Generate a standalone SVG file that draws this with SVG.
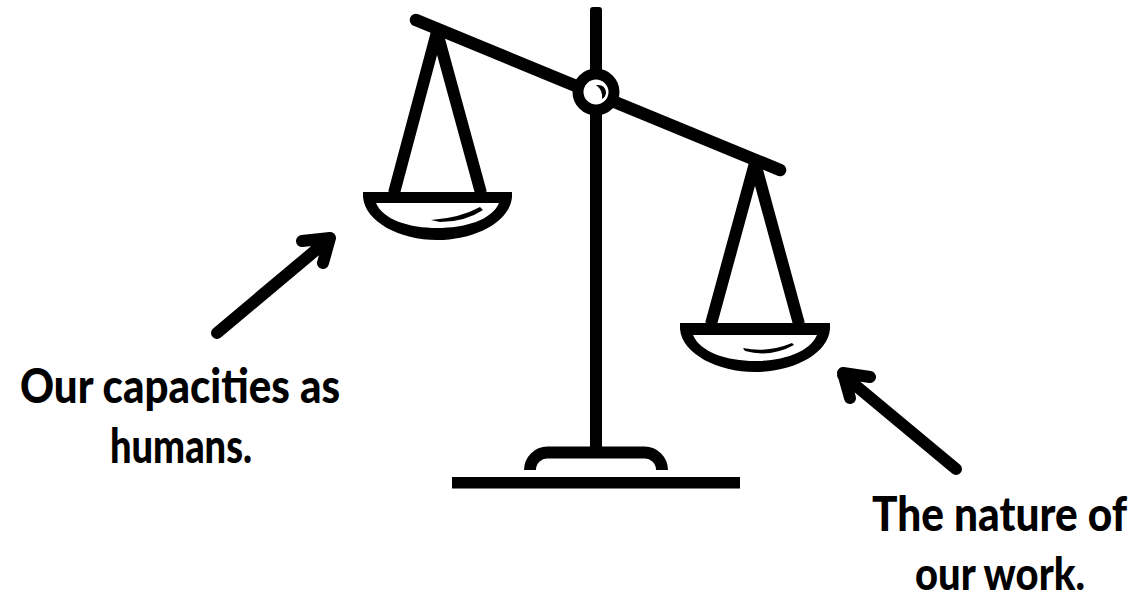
<svg xmlns="http://www.w3.org/2000/svg" width="1135" height="598" viewBox="0 0 1135 598">
<style>
.ln{fill:none;stroke:#000;stroke-width:12}
.rd{fill:none;stroke:#000;stroke-width:12.500;stroke-linecap:round;stroke-linejoin:round}
.ar{fill:none;stroke:#000;stroke-width:12;stroke-linecap:round;stroke-linejoin:round}
.pan{fill:#000;fill-rule:evenodd}
.t{font-family:"Lato","Noto Sans",sans-serif;font-weight:900;font-size:38px;fill:#000}
</style>
<rect width="1135" height="598" fill="#fff"/>
<g id="stand">
<rect x="590" y="7" width="12" height="445" rx="3" fill="#000"/>
<path class="ln" d="M530 470A17.500 17.500 0 0 1 547.500 452.500H644.500A17.500 17.500 0 0 1 662 470"/>
<rect x="452" y="477" width="288" height="11.500" fill="#000"/>
</g>
<g id="beam">
<path class="rd" d="M416 20L780 170"/>
<circle cx="596" cy="92" r="18" fill="#fff" stroke="#000" stroke-width="11"/>
<path d="M596 85Q605 84 606 92Q606 97 602 99Q603 90 596 85Z" fill="#000"/>
</g>
<g id="left-pan">
<path class="ln" d="M394 193L437 32M481 193L437 32"/>
<path class="pan" d="M363 192H512V197C510 222 475 240 437 240C400 240 365 222 363 197ZM376 203C383 220 410 228 437 228C465 228 492 220 499 203Z"/>
<path d="M431 220Q460 218 480 207L483 210Q465 222 440 222Z" fill="#000"/>
</g>
<g id="right-pan">
<path class="ln" d="M711 324L755 163M799 324L755 163"/>
<path class="pan" d="M680 323H830V329C828 354 793 372 755 372C718 372 682 354 680 329ZM693 335C700 352 727 361 755 361C783 361 810 352 817 335Z"/>
<path d="M743 348Q768 353 792 343L794 345Q770 358 745 351Z" fill="#000"/>
</g>
<g id="connectors">
<path class="ar" d="M217 333L329 239M302 241L330 238L323 263"/>
<path class="ar" d="M956 469L843 375M870 377L843 373L850 398"/>
</g>
<g id="label-capacities">
<text class="t" transform="translate(20 403) scale(1 1.250)" textLength="320" lengthAdjust="spacingAndGlyphs">Our capacities as</text>
<text class="t" transform="translate(110 463) scale(1 1.250)" textLength="142" lengthAdjust="spacingAndGlyphs">humans.</text>
</g>
<g id="label-nature">
<text class="t" transform="translate(872 531) scale(1 1.250)" textLength="255" lengthAdjust="spacingAndGlyphs">The nature of</text>
<text class="t" transform="translate(915 590) scale(1 1.200)" textLength="170" lengthAdjust="spacingAndGlyphs">our work.</text>
</g>
</svg>
